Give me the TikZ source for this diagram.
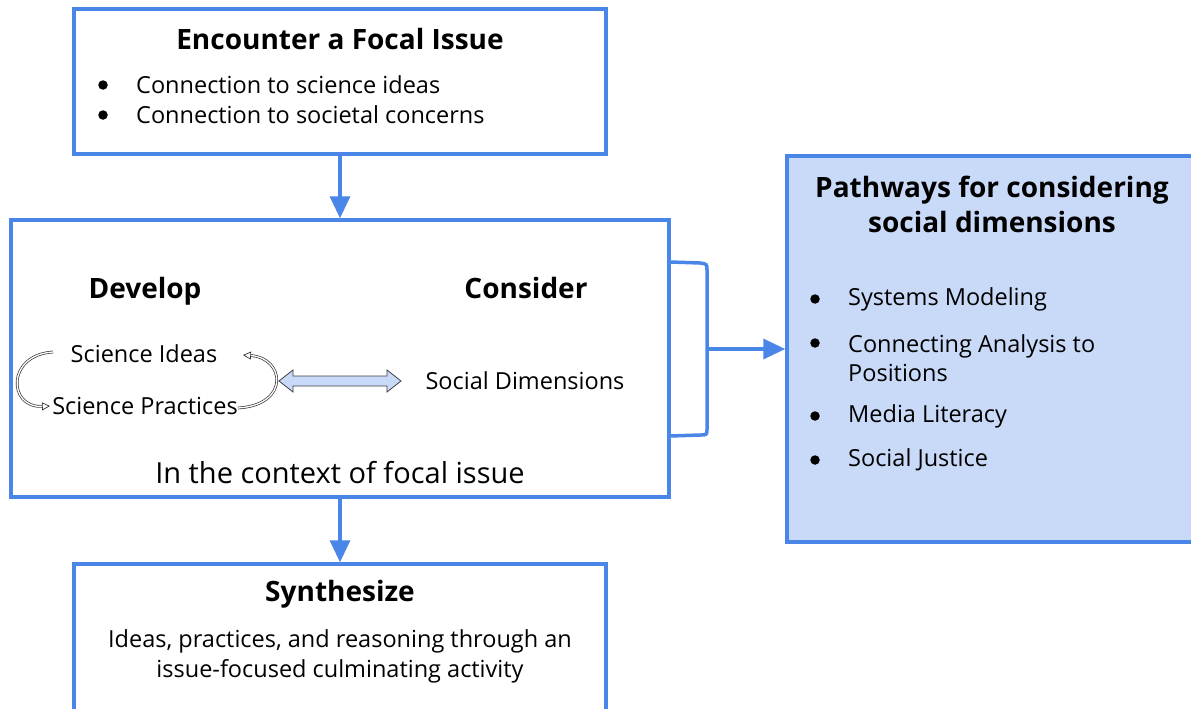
\documentclass[tikz,border=0pt]{standalone}
\usepackage{fontspec}
\setmainfont{Open Sans}
\usetikzlibrary{arrows.meta}
\definecolor{gblue}{RGB}{74,134,232}
\definecolor{lblue}{RGB}{201,218,248}
\tikzset{
  box/.style={draw=gblue, line width=3.5pt, rectangle, inner sep=0pt},
  conn/.style={draw=gblue, line width=3.5pt, -{Triangle[length=22pt,width=20pt]}},
  title/.style={font=\fontsize{28}{33}\selectfont\bfseries, anchor=center, inner sep=0pt},
  body/.style={font=\fontsize{23.5}{30}\selectfont, inner sep=0pt},
  bul/.style={circle, fill=black, inner sep=0pt, minimum size=9.5pt},
  cyc/.style={draw=black!80, line width=0.7pt, double=white, double distance=1.3pt, -{Triangle[open,length=8pt,width=8pt]}},
}
\begin{document}
\begin{tikzpicture}[x=1pt,y=-1pt]
\useasboundingbox (0,0) rectangle (1191,709);
\clip (0,0) rectangle (1191,709);
% boxes
\node[box, minimum width=532pt, minimum height=145pt] (top) at (340,81.5) {};
\node[box, minimum width=658pt, minimum height=277pt] (mid) at (340,358.5) {};
\node[box, minimum width=532pt, minimum height=152pt] (bot) at (340,640) {};
\node[box, fill=lblue, minimum width=420pt, minimum height=386pt] (right) at (997,349) {};
% top texts
\node[title] (toptitle) at (340,39) {Encounter a Focal Issue};
\node[bul] (b1) at (103,85) {};
\node[bul] (b2) at (103,115) {};
\node[body, anchor=west] (t1) at (136,85) {Connection to science ideas};
\node[body, anchor=west] (t2) at (136,115) {Connection to societal concerns};
% middle texts
\node[title] (dev) at (145,291) {Develop};
\node[title] (con) at (526,288) {Consider};
\node[body] (si) at (144,354) {Science Ideas};
\node[body] (sp) at (145,406) {Science Practices};
\node[body] (sd) at (525,381) {Social Dimensions};
\node[font=\fontsize{29}{33}\selectfont, inner sep=0pt] (ctx) at (340,473) {In the context of focal issue};
% cycle arrows
\coordinate (c1s) at (53,352);
\coordinate (c1e) at (50,406);
\coordinate (c2s) at (238,408);
\coordinate (c2e) at (243,355);
\draw[cyc] (c1s) .. controls (6,355) and (8,408) .. (c1e);
\draw[cyc] (c2s) .. controls (290,405) and (285,358) .. (c2e);
% double arrow
\draw[black!75, fill=lblue, line width=0.8pt] (279,381) -- (293,370) -- (293,376) -- (387,376) -- (387,370) -- (401,381) -- (387,392) -- (387,386) -- (293,386) -- (293,392) -- cycle;
% bottom texts
\node[title] (syn) at (340,594) {Synthesize};
\node[body, align=center] (syntxt) at (340,656) {Ideas, practices, and reasoning through an\\issue-focused culminating activity};
% right texts
\node[title, align=center, font=\fontsize{28}{35}\selectfont\bfseries] (rt) at (992,204) {Pathways for considering\\social dimensions};
\foreach \y/\n in {299/r1,343/r2,416/r3,460/r4}{
  \node[bul] (\n b) at (815,\y) {};
}
\node[body, anchor=west] (r1) at (848,299) {Systems Modeling};
\node[body, anchor=west, align=left, font=\fontsize{23.5}{29}\selectfont] (r2) at (848,358) {Connecting Analysis to\\Positions};
\node[body, anchor=west] (r3) at (848,416) {Media Literacy};
\node[body, anchor=west] (r4) at (848,460) {Social Justice};
% connectors
\draw[conn] (top.south) -- (mid.north);
\draw[conn] (mid.south) -- (bot.north);
\coordinate (bk1) at (mid.east |- 0,262);
\coordinate (bk2) at (mid.east |- 0,436);
\coordinate (bkm) at (707,349);
\draw[gblue, line width=3.5pt, line join=round] (bk1) -- (700,263) .. controls (707,264) .. (707,270) -- (707,428) .. controls (707,435) .. (700,435) -- (bk2);
\draw[conn] (bkm) -- (right.west);
\end{tikzpicture}
\end{document}
